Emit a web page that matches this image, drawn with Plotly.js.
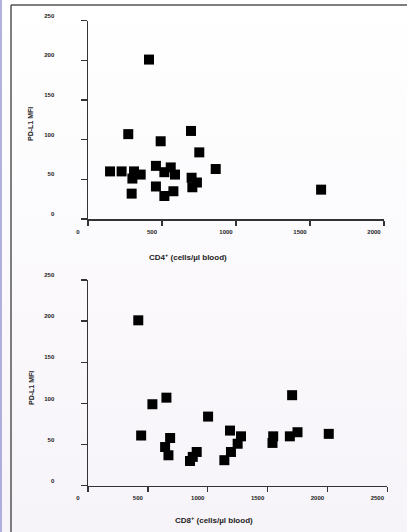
<!DOCTYPE html>
<html>
<head>
<meta charset="utf-8">
<script src="https://cdn.plot.ly/plotly-3.0.1.min.js"></script>
<style>
html,body{margin:0;padding:0;width:407px;height:532px;overflow:hidden;background:linear-gradient(#ffffff,#f7f4f9);}
#chart{width:407px;height:532px;}
</style>
</head>
<body>
<div id="chart"></div>
<script>
// CD4+ panel
const cd4X = [149, 227, 311, 356, 300, 295, 459, 516, 559, 588, 459, 516, 577, 700, 736, 705, 863, 752, 491, 272, 696, 412, 1575];
const cd4Y = [60, 60, 60, 56, 51, 32, 67, 59, 65, 56, 41, 29, 35, 52, 46, 40, 63, 84, 98, 107, 111, 201, 37];
// CD8+ panel
const cd8X = [420, 444, 538, 655, 686, 644, 672, 852, 875, 908, 1003, 1139, 1186, 1194, 1250, 1278, 1541, 1547, 1686, 1705, 1750, 2011];
const cd8Y = [201, 61, 99, 107, 58, 47, 37, 30, 35, 41, 84, 31, 67, 41, 51, 60, 52, 60, 60, 110, 65, 63];

const yTicks = [0, 50, 100, 150, 200, 250];
const cd4Ticks = [0, 500, 1000, 1500, 2000];
const cd8Ticks = [0, 500, 1000, 1500, 2000, 2500];

const cd4Title = 'CD4<sup>+</sup> (cells/µl blood)';
const cd8Title = 'CD8<sup>+</sup> (cells/µl blood)';
const yTitle = 'PD-L1 MFI';

const W = 407, H = 532;
const px = v => v / W;
const py = v => 1 - v / H;

const font = 'Liberation Sans, Arial, sans-serif';
const tickFont = {family: font, size: 6, color: '#222', weight: 'bold'};

function axisCommon() {
  return {
    showgrid: false, zeroline: false, showline: true,
    linecolor: '#333', linewidth: 1.5,
    ticks: 'outside', tickcolor: '#333', tickwidth: 1.5,
    tickfont: tickFont, fixedrange: true
  };
}

const marker = {symbol: 'square', size: 10, color: '#000', line: {width: 0}};

const data = [
  {x: cd4X, y: cd4Y, type: 'scatter', mode: 'markers', marker: marker, xaxis: 'x', yaxis: 'y', cliponaxis: false},
  {x: cd8X, y: cd8Y, type: 'scatter', mode: 'markers', marker: marker, xaxis: 'x2', yaxis: 'y2', cliponaxis: false}
];

const layout = {
  width: W, height: H,
  margin: {l: 0, r: 0, t: 0, b: 0},
  paper_bgcolor: 'rgba(0,0,0,0)',
  plot_bgcolor: 'rgba(0,0,0,0)',
  showlegend: false,
  font: {family: font},
  xaxis: Object.assign(axisCommon(), {
    domain: [px(88), px(384)], range: [0, 2000], anchor: 'y',
    tickvals: cd4Ticks, ticklen: 5, ticklabelshift: -10, ticklabelstandoff: 1
  }),
  yaxis: Object.assign(axisCommon(), {
    domain: [py(219), py(20.7)], range: [0, 250], anchor: 'x',
    tickvals: yTicks, ticklen: 6, ticklabelshift: -5, ticklabelstandoff: 25
  }),
  xaxis2: Object.assign(axisCommon(), {
    domain: [px(88), px(387.3)], range: [0, 2500], anchor: 'y2',
    tickvals: cd8Ticks, ticklen: 5, ticklabelshift: -10, ticklabelstandoff: 1
  }),
  yaxis2: Object.assign(axisCommon(), {
    domain: [py(485.7), py(280)], range: [0, 250], anchor: 'x2',
    tickvals: yTicks, ticklen: 6, ticklabelshift: -5, ticklabelstandoff: 25
  }),
  annotations: [
    {text: cd4Title, xref: 'paper', yref: 'paper', x: px(188), y: py(257), showarrow: false,
     xanchor: 'center', yanchor: 'middle', font: {family: font, size: 8, color: '#222', weight: 'bold'}},
    {text: cd8Title, xref: 'paper', yref: 'paper', x: px(214), y: py(520), showarrow: false,
     xanchor: 'center', yanchor: 'middle', font: {family: font, size: 8, color: '#222', weight: 'bold'}},
    {text: yTitle, xref: 'paper', yref: 'paper', x: px(31), y: py(124), showarrow: false, textangle: -90,
     xanchor: 'center', yanchor: 'middle', font: {family: font, size: 7, color: '#222', weight: 'bold'}},
    {text: yTitle, xref: 'paper', yref: 'paper', x: px(31), y: py(388), showarrow: false, textangle: -90,
     xanchor: 'center', yanchor: 'middle', font: {family: font, size: 7, color: '#222', weight: 'bold'}}
  ],
  shapes: [
    {type: 'line', xref: 'paper', yref: 'paper', x0: px(1), x1: px(1), y0: 0, y1: 1, line: {color: '#7f7fc4', width: 1.2}},
    {type: 'line', xref: 'paper', yref: 'paper', x0: px(11), x1: px(11), y0: 0, y1: py(5), line: {color: '#555', width: 1.5}},
    {type: 'line', xref: 'paper', yref: 'paper', x0: px(11), x1: 1, y0: py(5), y1: py(5), line: {color: '#555', width: 1.5}}
  ]
};

Plotly.newPlot('chart', data, layout, {displayModeBar: false, staticPlot: true});
</script>
</body>
</html>
